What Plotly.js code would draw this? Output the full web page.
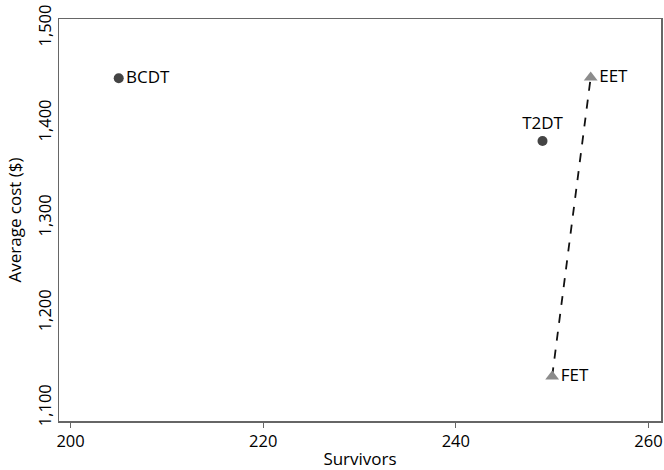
<!DOCTYPE html>
<html>
<head>
<meta charset="utf-8">
<script src="https://cdn.plot.ly/plotly-3.0.1.min.js"></script>
<style>html,body{margin:0;padding:0;background:#fff}#chart{width:664px;height:470px}</style>
</head>
<body>
<div id="chart"></div>
<script>
// Dominated / other strategies (circles)
const circleNames = ["BCDT", "T2DT"];
const circleSurvivors = [205, 249];
const circleCost = [1447, 1381];
const circleTextPos = ["middle right", "top center"];

// Frontier strategies (triangles, joined by dashed line)
const frontierNames = ["FET", "EET"];
const frontierSurvivors = [250, 254];
const frontierCost = [1133, 1448];

const xTicks = [200, 220, 240, 260];
const yTicks = [1100, 1200, 1300, 1400, 1500];
const yTickText = ["1,100", "1,200", "1,300", "1,400", "1,500"];

const font = "Open Sans, Noto Sans, sans-serif";

const traces = [
  {
    x: frontierSurvivors, y: frontierCost,
    mode: "lines", type: "scatter",
    line: {color: "#111", width: 1.8, dash: "dash"},
    hoverinfo: "skip", showlegend: false
  },
  {
    x: frontierSurvivors, y: frontierCost, text: frontierNames,
    mode: "markers+text", type: "scatter",
    textposition: "middle right",
    marker: {symbol: "triangle-up", size: 12, color: "#8c8c8c"},
    textfont: {family: font, size: 17, color: "#000"},
    showlegend: false
  },
  {
    x: circleSurvivors, y: circleCost, text: circleNames,
    mode: "markers+text", type: "scatter",
    textposition: circleTextPos,
    marker: {symbol: "circle", size: 10, color: "#444"},
    textfont: {family: font, size: 17, color: "#000"},
    showlegend: false
  }
];

const layout = {
  width: 664, height: 470,
  margin: {l: 59, r: 3, t: 19, b: 49, pad: 0},
  paper_bgcolor: "#fff", plot_bgcolor: "#fff",
  font: {family: font, size: 16, color: "#000"},
  showlegend: false,
  xaxis: {
    range: [198.8, 261.3],
    tickvals: xTicks, ticktext: xTicks.map(String),
    ticks: "outside", ticklen: 5, tickwidth: 1.3, tickcolor: "#666",
    showline: true, linecolor: "#666", linewidth: 1.5, mirror: true,
    showgrid: false, zeroline: false,
    tickfont: {family: font, size: 16.5, color: "#000"},
    title: {text: "Survivors", font: {family: font, size: 17, color: "#000"}, standoff: 5}
  },
  yaxis: {
    range: [1086, 1509.5],
    tickvals: yTicks, ticktext: yTickText,
    tickangle: -90,
    ticks: "", ticklen: 0,
    showline: true, linecolor: "#666", linewidth: 1.5, mirror: true,
    showgrid: false, zeroline: false,
    tickfont: {family: font, size: 16.5, color: "#000"},
    title: {text: "Average cost ($)", font: {family: font, size: 17, color: "#000"}, standoff: 7}
  }
};

Plotly.newPlot("chart", traces, layout, {displayModeBar: false, staticPlot: true});
</script>
</body>
</html>
